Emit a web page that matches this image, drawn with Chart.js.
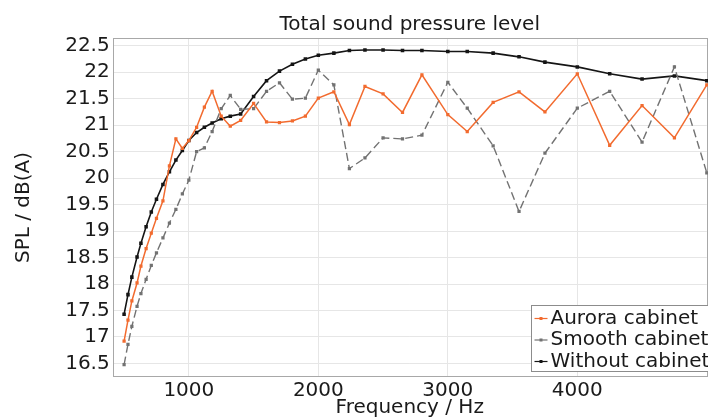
<!DOCTYPE html>
<html><head><meta charset="utf-8">
<script src="https://cdn.jsdelivr.net/npm/chart.js@4/dist/chart.umd.min.js"></script>
<style>
html,body{margin:0;padding:0;background:#fff;overflow:hidden;width:708px;height:420px}
#wrap{width:730px;height:420px;position:relative}
</style>
</head><body><div id="wrap"><canvas id="c" width="730" height="420"></canvas></div>
<script>
const frequencies = [500,530,560,600,630,670,710,750,800,850,900,950,
  1000,1060,1120,1180,1250,1320,1400,1500,1600,1700,1800,1900,
  2000,2120,2240,2360,2500,2650,2800,3000,3150,3350,3550,3750,
  4000,4250,4500,4750,5000];
const aurora = [16.92,17.32,17.68,18.02,18.34,18.67,18.96,19.24,19.57,20.23,20.74,20.56,
  20.71,20.96,21.34,21.64,21.17,20.98,21.09,21.41,21.06,21.05,21.08,21.17,
  21.51,21.63,21.01,21.73,21.59,21.24,21.95,21.20,20.88,21.43,21.63,21.25,
  21.97,20.62,21.37,20.76,21.76];
const smooth = [16.48,16.86,17.20,17.58,17.82,18.09,18.35,18.59,18.87,19.15,19.41,19.70,
  19.96,20.50,20.57,20.88,21.31,21.56,21.30,21.31,21.64,21.80,21.49,21.51,
  22.04,21.76,20.18,20.38,20.76,20.74,20.81,21.81,21.32,20.61,19.37,20.47,
  21.32,21.64,20.68,22.10,20.10];
const without = [17.43,17.80,18.13,18.51,18.77,19.08,19.36,19.60,19.88,20.12,20.34,20.52,
  20.71,20.86,20.96,21.04,21.12,21.17,21.21,21.54,21.84,22.02,22.15,22.25,
  22.32,22.36,22.41,22.42,22.42,22.41,22.41,22.39,22.39,22.36,22.29,22.19,
  22.10,21.97,21.87,21.93,21.84];
const seriesNames = ['Aurora cabinet','Smooth cabinet','Without cabinet'];
const xTickValues = [1000,2000,3000,4000];
const yTickValues = [16.5,17,17.5,18,18.5,19,19.5,20,20.5,21,21.5,22,22.5];
const chartTitle = 'Total sound pressure level';
const xTitle = 'Frequency / Hz';
const yTitle = 'SPL / dB(A)';

const FONT = '"DejaVu Sans", sans-serif';
const TXT = '#1a1a1a';
Chart.defaults.font.family = FONT;
Chart.defaults.color = TXT;

function pts(vals){ return frequencies.map((f,i)=>({x:f,y:vals[i]})); }

const framePlugin = {
  id:'frame',
  beforeDatasetsDraw(chart){
    const {left,top,right,bottom} = chart.chartArea;
    const ctx = chart.ctx;
    ctx.save();
    ctx.strokeStyle = '#a8a8a8'; ctx.lineWidth = 1;
    ctx.strokeRect(Math.round(left)+0.5, Math.round(top)+0.5, Math.round(right-left), Math.round(bottom-top));
    ctx.restore();
  }
};
const legendPlugin = {
  id:'boxLegend',
  afterDraw(chart){
    const ctx = chart.ctx;
    const ca = chart.chartArea;
    const bx = Math.round(ca.left + 418) + 0.5, by = Math.round(ca.bottom - 71.5) + 0.5;
    ctx.save();
    ctx.fillStyle = '#fff'; ctx.fillRect(bx, by, 184, 66);
    ctx.strokeStyle = '#8c8c8c'; ctx.lineWidth = 1; ctx.strokeRect(bx, by, 184, 66);
    ctx.font = '20px ' + FONT; ctx.textBaseline = 'middle'; ctx.textAlign = 'left';
    chart.data.datasets.forEach((ds,i)=>{
      const y = by + 13 + i*21.5;
      ctx.strokeStyle = ds.borderColor; ctx.lineWidth = 1.2; ctx.setLineDash([]);
      ctx.beginPath(); ctx.moveTo(bx+3, y); ctx.lineTo(bx+16, y); ctx.stroke();
      ctx.fillStyle = ds.borderColor; ctx.fillRect(bx+8, y-1.5, 3, 3);
      ctx.fillStyle = TXT; ctx.fillText(ds.label, bx+19, y);
    });
    ctx.restore();
  }
};

new Chart(document.getElementById('c'), {
  type:'line',
  data:{ datasets:[
    {label:seriesNames[0], data:pts(aurora), borderColor:'#f26b2f', backgroundColor:'#f26b2f',
     borderWidth:1.5, pointStyle:'rect', pointRadius:2.3, pointBorderWidth:0, pointHoverRadius:2.3, clip:6},
    {label:seriesNames[1], data:pts(smooth), borderColor:'#727272', backgroundColor:'#727272',
     borderWidth:1.4, borderDash:[8,4], pointStyle:'rect', pointRadius:2.3, pointBorderWidth:0, pointHoverRadius:2.3, clip:6},
    {label:seriesNames[2], data:pts(without), borderColor:'#151515', backgroundColor:'#151515',
     borderWidth:1.6, pointStyle:'rect', pointRadius:2.5, pointBorderWidth:0, pointHoverRadius:2.5, clip:6}
  ]},
  options:{
    responsive:false, animation:false, devicePixelRatio:1,
    layout:{padding:{left:0, right:23.2, top:0, bottom:0}},
    plugins:{
      legend:{display:false}, tooltip:{enabled:false},
      title:{display:true, fullSize:false, text:chartTitle, color:TXT, font:{size:20, weight:'normal', lineHeight:1.2}, padding:{top:13, bottom:1.3}}
    },
    scales:{
      x:{type:'linear', min:412, max:5000,
        afterBuildTicks:s=>{ s.ticks = xTickValues.map(v=>({value:v})); },
        afterFit:s=>{ s.height = 43.3; },
        ticks:{font:{size:20, lineHeight:1}, color:TXT, padding:4, maxRotation:0, autoSkip:false, callback:v=>String(v)},
        grid:{color:'#e6e6e6', drawTicks:false},
        border:{display:false},
        title:{display:true, text:xTitle, color:TXT, font:{size:20, lineHeight:1}, padding:{top:0, bottom:2}}
      },
      y:{type:'linear', min:16.25, max:22.64,
        afterBuildTicks:s=>{ s.ticks = yTickValues.map(v=>({value:v})); },
        afterFit:s=>{ s.width = 112.7; },
        ticks:{font:{size:20, lineHeight:1}, color:TXT, padding:3, autoSkip:false, callback:v=>String(v)},
        grid:{color:'#e6e6e6', drawTicks:false},
        border:{display:false},
        title:{display:true, text:yTitle, color:TXT, font:{size:20, lineHeight:1}, padding:{top:13.5, bottom:0}}
      }
    }
  },
  plugins:[framePlugin, legendPlugin]
});
</script>
</body></html>
